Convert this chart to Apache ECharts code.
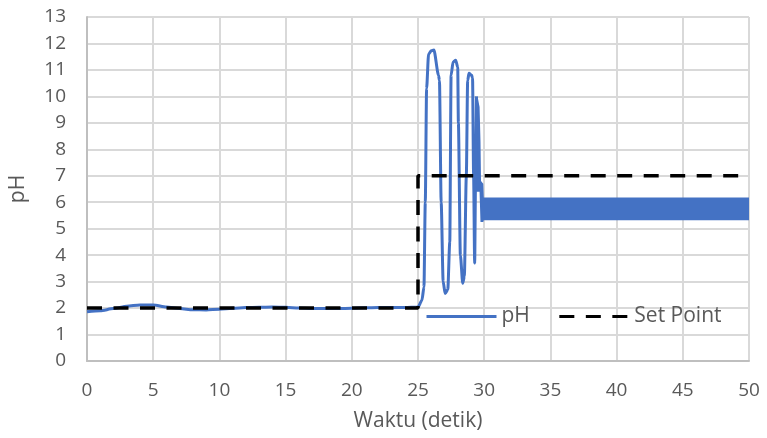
<!DOCTYPE html>
<html>
<head>
<meta charset="utf-8">
<script src="https://cdn.jsdelivr.net/npm/echarts@6/dist/echarts.min.js"></script>
<style>
  html, body { margin: 0; padding: 0; background: #ffffff; }
  #chart { width: 767px; height: 438px; }
</style>
</head>
<body>
<div id="chart"></div>
<script>
// pH response (seconds, pH)
const phTime = [0, 1, 2, 3, 4, 5, 6, 7, 8, 9, 10, 11, 12, 13, 14, 15, 16, 17, 18, 19, 20, 21, 22, 23, 24, 25,
  25.3, 25.45, 25.55, 25.65, 25.8, 26.0, 26.2, 26.55, 26.62, 26.75, 26.9, 27.05, 27.25, 27.4,
  27.5, 27.65, 27.85, 28.0, 28.05, 28.2, 28.38, 28.5, 28.65, 28.75, 28.85, 29.05, 29.12, 29.2, 29.28, 29.35, 29.42];
const phValue = [1.86, 1.9, 1.98, 2.07, 2.12, 2.12, 2.04, 1.98, 1.94, 1.93, 1.96, 1.99, 2.02, 2.03, 2.04, 2.03, 2.0, 1.98, 1.98, 1.98, 1.99, 2.01, 2.02, 2.02, 2.02, 2.04,
  2.3, 2.8, 6.0, 10.3, 11.6, 11.72, 11.75, 10.8, 10.6, 6.0, 3.0, 2.55, 2.7, 4.5,
  10.8, 11.3, 11.37, 11.1, 9.0, 4.0, 2.94, 3.2, 7.0, 10.6, 10.87, 10.8, 10.7, 7.0, 3.7, 7.0, 10.0];

// Envelope of the fast steady-state oscillation (seconds, low pH, high pH)
const bandTime = [29.32, 29.38, 29.5, 29.65, 29.72, 29.76, 29.93, 29.97, 50];
const bandHigh = [8.5, 9.95, 10.0, 9.6, 8.3, 6.8, 6.7, 6.18, 6.18];
const bandLow  = [6.4, 6.4, 6.4, 6.4, 5.25, 5.25, 5.25, 5.32, 5.32];

// Set point (seconds, pH)
const setTime  = [0, 25, 25, 50];
const setValue = [2, 2, 7, 7];

// Axis ticks
const xTicks = { min: 0, max: 50, interval: 5 };
const yTicks = { min: 0, max: 13, interval: 1 };

const BLUE = '#4472C4';
const TEXT = '#595959';
const FONT = '"Open Sans", "Noto Sans", sans-serif';

const chart = echarts.init(document.getElementById('chart'), null, { renderer: 'canvas' });

chart.setOption({
  animation: false,
  backgroundColor: '#ffffff',
  textStyle: { fontFamily: FONT },
  grid: { left: 86, right: 18, top: 17, bottom: 77 },
  legend: {
    data: ['pH', 'Set Point'],
    left: 425,
    top: 306,
    padding: 0,
    itemWidth: 70,
    itemHeight: 14,
    itemGap: 28,
    itemStyle: { opacity: 0 },
    lineStyle: { width: 3 },
    textStyle: { fontSize: 21, color: TEXT, fontFamily: FONT }
  },
  xAxis: {
    type: 'value',
    min: xTicks.min, max: xTicks.max, interval: xTicks.interval,
    name: 'Waktu (detik)',
    nameLocation: 'middle',
    nameGap: 50,
    nameTextStyle: { fontSize: 21, color: TEXT, fontFamily: FONT },
    axisLine: { show: true, lineStyle: { color: '#bfbfbf', width: 2 } },
    axisTick: { show: false },
    axisLabel: { fontSize: 19, color: TEXT, margin: 20, fontFamily: FONT },
    splitLine: { show: true, lineStyle: { color: '#d9d9d9', width: 2 } }
  },
  yAxis: {
    type: 'value',
    min: yTicks.min, max: yTicks.max, interval: yTicks.interval,
    name: 'pH',
    nameLocation: 'middle',
    nameGap: 58,
    nameRotate: 90,
    nameTextStyle: { fontSize: 21, color: TEXT, fontFamily: FONT },
    axisLine: { show: true, lineStyle: { color: '#bfbfbf', width: 2 } },
    axisTick: { show: false },
    axisLabel: { fontSize: 19, color: TEXT, margin: 21, fontFamily: FONT },
    splitLine: { show: true, lineStyle: { color: '#d9d9d9', width: 2 } }
  },
  series: [
    {
      name: 'pH',
      type: 'line',
      data: phTime.map((t, i) => [t, phValue[i]]),
      symbol: 'none',
      smooth: 0.25,
      smoothMonotone: 'x',
      lineStyle: { color: BLUE, width: 3 },
      itemStyle: { color: BLUE },
      z: 2
    },
    {
      name: 'pH band',
      type: 'custom',
      data: bandTime.map((t, i) => [t, bandLow[i], bandHigh[i]]),
      encode: { x: 0, y: [1, 2] },
      renderItem: function (params, api) {
        if (params.dataIndex !== 0) return null;
        const upper = bandTime.map((t, i) => api.coord([t, bandHigh[i]]));
        const lower = bandTime.map((t, i) => api.coord([t, bandLow[i]])).reverse();
        return {
          type: 'polygon',
          shape: { points: upper.concat(lower) },
          style: { fill: BLUE }
        };
      },
      z: 2
    },
    {
      name: 'Set Point',
      type: 'line',
      data: setTime.map((t, i) => [t, setValue[i]]),
      symbol: 'none',
      lineStyle: { color: '#000000', width: 3.5, type: [15, 11.5] },
      itemStyle: { color: '#000000' },
      z: 3
    }
  ]
});
</script>
</body>
</html>
